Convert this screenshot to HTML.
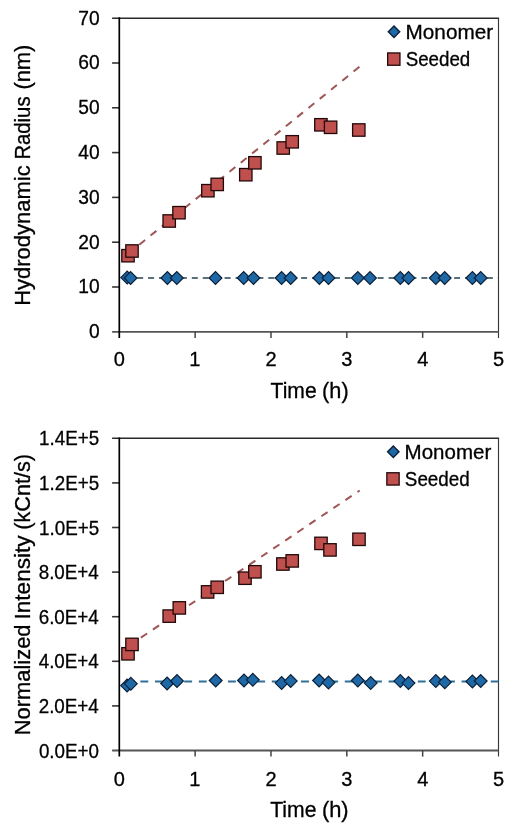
<!DOCTYPE html>
<html><head><meta charset="utf-8">
<style>
html,body{margin:0;padding:0;background:#fff;}
body{width:527px;height:829px;overflow:hidden;}
svg{display:block;will-change:transform;}
text{font-family:"Liberation Sans", sans-serif;fill:#000;stroke:#000;stroke-width:0.3px;}
</style></head>
<body>
<svg width="527" height="829" viewBox="0 0 527 829">
<rect width="527" height="829" fill="#fff"/>
<line x1="112.1" y1="18.20" x2="499.1" y2="18.20" stroke="#2a2a2a" stroke-width="1.5"/>
<line x1="498.50" y1="18.20" x2="498.50" y2="337.90" stroke="#383838" stroke-width="1.15"/>
<line x1="112.1" y1="331.80" x2="498.50" y2="331.80" stroke="#555" stroke-width="1.8"/>
<line x1="112.1" y1="63.00" x2="119.30" y2="63.00" stroke="#333" stroke-width="1.6"/>
<line x1="112.1" y1="107.80" x2="119.30" y2="107.80" stroke="#333" stroke-width="1.6"/>
<line x1="112.1" y1="152.60" x2="119.30" y2="152.60" stroke="#333" stroke-width="1.6"/>
<line x1="112.1" y1="197.40" x2="119.30" y2="197.40" stroke="#333" stroke-width="1.6"/>
<line x1="112.1" y1="242.20" x2="119.30" y2="242.20" stroke="#333" stroke-width="1.6"/>
<line x1="112.1" y1="287.00" x2="119.30" y2="287.00" stroke="#333" stroke-width="1.6"/>
<line x1="195.14" y1="331.80" x2="195.14" y2="337.90" stroke="#444" stroke-width="1.5"/>
<line x1="270.98" y1="331.80" x2="270.98" y2="337.90" stroke="#444" stroke-width="1.5"/>
<line x1="346.82" y1="331.80" x2="346.82" y2="337.90" stroke="#444" stroke-width="1.5"/>
<line x1="422.66" y1="331.80" x2="422.66" y2="337.90" stroke="#444" stroke-width="1.5"/>
<line x1="128" y1="253.8" x2="359.7" y2="66.6" stroke="#9e5656" stroke-width="2.0" stroke-dasharray="7.5 7" stroke-dashoffset="0"/>
<line x1="127.2" y1="278.0" x2="498.5" y2="278.0" stroke="#24434f" stroke-width="1.6" stroke-dasharray="6.0 4.93" stroke-dashoffset="0.98"/>
<rect x="121.80" y="249.50" width="12.4" height="12.4" fill="#c0504d" stroke="#220808" stroke-width="1.3"/>
<rect x="125.80" y="244.80" width="12.4" height="12.4" fill="#c0504d" stroke="#220808" stroke-width="1.3"/>
<rect x="163.00" y="214.80" width="12.4" height="12.4" fill="#c0504d" stroke="#220808" stroke-width="1.3"/>
<rect x="172.80" y="206.50" width="12.4" height="12.4" fill="#c0504d" stroke="#220808" stroke-width="1.3"/>
<rect x="201.70" y="184.50" width="12.4" height="12.4" fill="#c0504d" stroke="#220808" stroke-width="1.3"/>
<rect x="211.00" y="178.20" width="12.4" height="12.4" fill="#c0504d" stroke="#220808" stroke-width="1.3"/>
<rect x="239.60" y="168.50" width="12.4" height="12.4" fill="#c0504d" stroke="#220808" stroke-width="1.3"/>
<rect x="248.70" y="156.60" width="12.4" height="12.4" fill="#c0504d" stroke="#220808" stroke-width="1.3"/>
<rect x="277.00" y="141.80" width="12.4" height="12.4" fill="#c0504d" stroke="#220808" stroke-width="1.3"/>
<rect x="286.00" y="135.60" width="12.4" height="12.4" fill="#c0504d" stroke="#220808" stroke-width="1.3"/>
<rect x="314.70" y="118.60" width="12.4" height="12.4" fill="#c0504d" stroke="#220808" stroke-width="1.3"/>
<rect x="324.40" y="121.10" width="12.4" height="12.4" fill="#c0504d" stroke="#220808" stroke-width="1.3"/>
<rect x="352.60" y="123.80" width="12.4" height="12.4" fill="#c0504d" stroke="#220808" stroke-width="1.3"/>
<path d="M120.80 277.60 L127.20 271.20 L133.60 277.60 L127.20 284.00 Z" fill="#1f68a6" stroke="#0b2038" stroke-width="1.2"/>
<path d="M124.20 278.00 L130.60 271.60 L137.00 278.00 L130.60 284.40 Z" fill="#1f68a6" stroke="#0b2038" stroke-width="1.2"/>
<path d="M161.00 278.00 L167.40 271.60 L173.80 278.00 L167.40 284.40 Z" fill="#1f68a6" stroke="#0b2038" stroke-width="1.2"/>
<path d="M170.40 278.00 L176.80 271.60 L183.20 278.00 L176.80 284.40 Z" fill="#1f68a6" stroke="#0b2038" stroke-width="1.2"/>
<path d="M209.10 278.00 L215.50 271.60 L221.90 278.00 L215.50 284.40 Z" fill="#1f68a6" stroke="#0b2038" stroke-width="1.2"/>
<path d="M237.30 278.00 L243.70 271.60 L250.10 278.00 L243.70 284.40 Z" fill="#1f68a6" stroke="#0b2038" stroke-width="1.2"/>
<path d="M247.10 278.00 L253.50 271.60 L259.90 278.00 L253.50 284.40 Z" fill="#1f68a6" stroke="#0b2038" stroke-width="1.2"/>
<path d="M275.20 278.00 L281.60 271.60 L288.00 278.00 L281.60 284.40 Z" fill="#1f68a6" stroke="#0b2038" stroke-width="1.2"/>
<path d="M284.30 278.00 L290.70 271.60 L297.10 278.00 L290.70 284.40 Z" fill="#1f68a6" stroke="#0b2038" stroke-width="1.2"/>
<path d="M313.00 278.00 L319.40 271.60 L325.80 278.00 L319.40 284.40 Z" fill="#1f68a6" stroke="#0b2038" stroke-width="1.2"/>
<path d="M322.10 278.00 L328.50 271.60 L334.90 278.00 L328.50 284.40 Z" fill="#1f68a6" stroke="#0b2038" stroke-width="1.2"/>
<path d="M351.40 278.00 L357.80 271.60 L364.20 278.00 L357.80 284.40 Z" fill="#1f68a6" stroke="#0b2038" stroke-width="1.2"/>
<path d="M363.60 278.00 L370.00 271.60 L376.40 278.00 L370.00 284.40 Z" fill="#1f68a6" stroke="#0b2038" stroke-width="1.2"/>
<path d="M393.90 278.00 L400.30 271.60 L406.70 278.00 L400.30 284.40 Z" fill="#1f68a6" stroke="#0b2038" stroke-width="1.2"/>
<path d="M402.10 278.00 L408.50 271.60 L414.90 278.00 L408.50 284.40 Z" fill="#1f68a6" stroke="#0b2038" stroke-width="1.2"/>
<path d="M429.40 278.00 L435.80 271.60 L442.20 278.00 L435.80 284.40 Z" fill="#1f68a6" stroke="#0b2038" stroke-width="1.2"/>
<path d="M438.30 278.00 L444.70 271.60 L451.10 278.00 L444.70 284.40 Z" fill="#1f68a6" stroke="#0b2038" stroke-width="1.2"/>
<path d="M466.00 278.00 L472.40 271.60 L478.80 278.00 L472.40 284.40 Z" fill="#1f68a6" stroke="#0b2038" stroke-width="1.2"/>
<path d="M474.30 278.00 L480.70 271.60 L487.10 278.00 L480.70 284.40 Z" fill="#1f68a6" stroke="#0b2038" stroke-width="1.2"/>
<line x1="119.30" y1="17.30" x2="119.30" y2="337.90" stroke="#000" stroke-width="1.7"/>
<text transform="translate(78.36,24.50) scale(0.9600,1)" font-size="20">70</text>
<text transform="translate(78.36,69.30) scale(0.9600,1)" font-size="20">60</text>
<text transform="translate(78.36,114.10) scale(0.9600,1)" font-size="20">50</text>
<text transform="translate(78.36,158.90) scale(0.9600,1)" font-size="20">40</text>
<text transform="translate(78.36,203.70) scale(0.9600,1)" font-size="20">30</text>
<text transform="translate(78.36,248.50) scale(0.9600,1)" font-size="20">20</text>
<text transform="translate(78.36,293.30) scale(0.9600,1)" font-size="20">10</text>
<text transform="translate(88.92,338.10) scale(0.9600,1)" font-size="20">0</text>
<text transform="translate(113.70,366.00) scale(1.0000,1)" font-size="20">0</text>
<text transform="translate(189.24,366.00) scale(1.0000,1)" font-size="20">1</text>
<text transform="translate(265.38,366.00) scale(1.0000,1)" font-size="20">2</text>
<text transform="translate(341.32,366.00) scale(1.0000,1)" font-size="20">3</text>
<text transform="translate(417.16,366.00) scale(1.0000,1)" font-size="20">4</text>
<text transform="translate(493.00,366.00) scale(1.0000,1)" font-size="20">5</text>
<text transform="translate(270.58,397.60) scale(0.9899,1)" font-size="21.3">Time</text>
<text transform="translate(322.10,397.60) scale(1.0201,1)" font-size="21.3">(h)</text>
<text transform="translate(30.00,89.62) rotate(-90) scale(1.0290,1)" font-size="21.3">(nm)</text>
<text transform="translate(30.00,159.62) rotate(-90) scale(0.9531,1)" font-size="21.3">Radius</text>
<text transform="translate(30.00,305.76) rotate(-90) scale(1.0324,1)" font-size="21.3">Hydrodynamic</text>
<path d="M388.30 31.80 L394.00 26.10 L399.70 31.80 L394.00 37.50 Z" fill="#1f68a6" stroke="#0b2038" stroke-width="1.4"/>
<text transform="translate(405.54,38.50) scale(1.0533,1)" font-size="19.7">Monomer</text>
<rect x="387.65" y="52.95" width="12.3" height="12.3" fill="#c0504d" stroke="#220808" stroke-width="1.3"/>
<text transform="translate(405.66,65.70) scale(0.9527,1)" font-size="19.7">Seeded</text>
<line x1="112.1" y1="438.30" x2="499.1" y2="438.30" stroke="#2a2a2a" stroke-width="1.5"/>
<line x1="498.50" y1="438.30" x2="498.50" y2="756.60" stroke="#383838" stroke-width="1.15"/>
<line x1="112.1" y1="750.50" x2="498.50" y2="750.50" stroke="#555" stroke-width="1.8"/>
<line x1="112.1" y1="482.90" x2="119.30" y2="482.90" stroke="#333" stroke-width="1.6"/>
<line x1="112.1" y1="527.50" x2="119.30" y2="527.50" stroke="#333" stroke-width="1.6"/>
<line x1="112.1" y1="572.10" x2="119.30" y2="572.10" stroke="#333" stroke-width="1.6"/>
<line x1="112.1" y1="616.70" x2="119.30" y2="616.70" stroke="#333" stroke-width="1.6"/>
<line x1="112.1" y1="661.30" x2="119.30" y2="661.30" stroke="#333" stroke-width="1.6"/>
<line x1="112.1" y1="705.90" x2="119.30" y2="705.90" stroke="#333" stroke-width="1.6"/>
<line x1="195.14" y1="750.50" x2="195.14" y2="756.60" stroke="#444" stroke-width="1.5"/>
<line x1="270.98" y1="750.50" x2="270.98" y2="756.60" stroke="#444" stroke-width="1.5"/>
<line x1="346.82" y1="750.50" x2="346.82" y2="756.60" stroke="#444" stroke-width="1.5"/>
<line x1="422.66" y1="750.50" x2="422.66" y2="756.60" stroke="#444" stroke-width="1.5"/>
<line x1="128" y1="646.3" x2="359.7" y2="490.5" stroke="#9e5656" stroke-width="2.0" stroke-dasharray="7.5 7" stroke-dashoffset="-1"/>
<line x1="127.1" y1="681.5" x2="498.5" y2="681.5" stroke="#2f6f98" stroke-width="2.0" stroke-dasharray="7.9 6.70" stroke-dashoffset="1.30"/>
<rect x="121.80" y="647.60" width="12.4" height="12.4" fill="#c0504d" stroke="#220808" stroke-width="1.3"/>
<rect x="125.80" y="638.20" width="12.4" height="12.4" fill="#c0504d" stroke="#220808" stroke-width="1.3"/>
<rect x="163.00" y="609.90" width="12.4" height="12.4" fill="#c0504d" stroke="#220808" stroke-width="1.3"/>
<rect x="173.10" y="601.70" width="12.4" height="12.4" fill="#c0504d" stroke="#220808" stroke-width="1.3"/>
<rect x="201.40" y="585.70" width="12.4" height="12.4" fill="#c0504d" stroke="#220808" stroke-width="1.3"/>
<rect x="211.00" y="581.10" width="12.4" height="12.4" fill="#c0504d" stroke="#220808" stroke-width="1.3"/>
<rect x="238.80" y="572.00" width="12.4" height="12.4" fill="#c0504d" stroke="#220808" stroke-width="1.3"/>
<rect x="248.70" y="565.60" width="12.4" height="12.4" fill="#c0504d" stroke="#220808" stroke-width="1.3"/>
<rect x="276.70" y="557.80" width="12.4" height="12.4" fill="#c0504d" stroke="#220808" stroke-width="1.3"/>
<rect x="286.00" y="554.70" width="12.4" height="12.4" fill="#c0504d" stroke="#220808" stroke-width="1.3"/>
<rect x="314.80" y="537.20" width="12.4" height="12.4" fill="#c0504d" stroke="#220808" stroke-width="1.3"/>
<rect x="323.80" y="543.70" width="12.4" height="12.4" fill="#c0504d" stroke="#220808" stroke-width="1.3"/>
<rect x="352.80" y="533.10" width="12.4" height="12.4" fill="#c0504d" stroke="#220808" stroke-width="1.3"/>
<path d="M120.70 685.60 L127.10 679.20 L133.50 685.60 L127.10 692.00 Z" fill="#1f68a6" stroke="#0b2038" stroke-width="1.2"/>
<path d="M124.40 683.80 L130.80 677.40 L137.20 683.80 L130.80 690.20 Z" fill="#1f68a6" stroke="#0b2038" stroke-width="1.2"/>
<path d="M160.70 683.50 L167.10 677.10 L173.50 683.50 L167.10 689.90 Z" fill="#1f68a6" stroke="#0b2038" stroke-width="1.2"/>
<path d="M170.60 681.00 L177.00 674.60 L183.40 681.00 L177.00 687.40 Z" fill="#1f68a6" stroke="#0b2038" stroke-width="1.2"/>
<path d="M209.30 680.50 L215.70 674.10 L222.10 680.50 L215.70 686.90 Z" fill="#1f68a6" stroke="#0b2038" stroke-width="1.2"/>
<path d="M237.60 680.50 L244.00 674.10 L250.40 680.50 L244.00 686.90 Z" fill="#1f68a6" stroke="#0b2038" stroke-width="1.2"/>
<path d="M246.40 679.80 L252.80 673.40 L259.20 679.80 L252.80 686.20 Z" fill="#1f68a6" stroke="#0b2038" stroke-width="1.2"/>
<path d="M275.20 683.10 L281.60 676.70 L288.00 683.10 L281.60 689.50 Z" fill="#1f68a6" stroke="#0b2038" stroke-width="1.2"/>
<path d="M284.30 681.10 L290.70 674.70 L297.10 681.10 L290.70 687.50 Z" fill="#1f68a6" stroke="#0b2038" stroke-width="1.2"/>
<path d="M312.70 680.50 L319.10 674.10 L325.50 680.50 L319.10 686.90 Z" fill="#1f68a6" stroke="#0b2038" stroke-width="1.2"/>
<path d="M322.10 682.60 L328.50 676.20 L334.90 682.60 L328.50 689.00 Z" fill="#1f68a6" stroke="#0b2038" stroke-width="1.2"/>
<path d="M351.40 680.50 L357.80 674.10 L364.20 680.50 L357.80 686.90 Z" fill="#1f68a6" stroke="#0b2038" stroke-width="1.2"/>
<path d="M364.30 683.10 L370.70 676.70 L377.10 683.10 L370.70 689.50 Z" fill="#1f68a6" stroke="#0b2038" stroke-width="1.2"/>
<path d="M393.90 681.10 L400.30 674.70 L406.70 681.10 L400.30 687.50 Z" fill="#1f68a6" stroke="#0b2038" stroke-width="1.2"/>
<path d="M402.10 683.10 L408.50 676.70 L414.90 683.10 L408.50 689.50 Z" fill="#1f68a6" stroke="#0b2038" stroke-width="1.2"/>
<path d="M429.40 681.10 L435.80 674.70 L442.20 681.10 L435.80 687.50 Z" fill="#1f68a6" stroke="#0b2038" stroke-width="1.2"/>
<path d="M438.40 682.30 L444.80 675.90 L451.20 682.30 L444.80 688.70 Z" fill="#1f68a6" stroke="#0b2038" stroke-width="1.2"/>
<path d="M466.00 681.40 L472.40 675.00 L478.80 681.40 L472.40 687.80 Z" fill="#1f68a6" stroke="#0b2038" stroke-width="1.2"/>
<path d="M474.30 681.00 L480.70 674.60 L487.10 681.00 L480.70 687.40 Z" fill="#1f68a6" stroke="#0b2038" stroke-width="1.2"/>
<line x1="119.30" y1="437.40" x2="119.30" y2="756.60" stroke="#000" stroke-width="1.7"/>
<text transform="translate(39.08,445.30) scale(0.9400,1)" font-size="20">1.4E+5</text>
<text transform="translate(39.08,489.90) scale(0.9400,1)" font-size="20">1.2E+5</text>
<text transform="translate(39.08,534.50) scale(0.9400,1)" font-size="20">1.0E+5</text>
<text transform="translate(38.70,579.10) scale(0.9400,1)" font-size="20">8.0E+4</text>
<text transform="translate(38.70,623.70) scale(0.9400,1)" font-size="20">6.0E+4</text>
<text transform="translate(38.70,668.30) scale(0.9400,1)" font-size="20">4.0E+4</text>
<text transform="translate(38.70,712.90) scale(0.9400,1)" font-size="20">2.0E+4</text>
<text transform="translate(38.89,757.50) scale(0.9400,1)" font-size="20">0.0E+0</text>
<text transform="translate(113.70,785.60) scale(1.0000,1)" font-size="20">0</text>
<text transform="translate(189.24,785.60) scale(1.0000,1)" font-size="20">1</text>
<text transform="translate(265.38,785.60) scale(1.0000,1)" font-size="20">2</text>
<text transform="translate(341.32,785.60) scale(1.0000,1)" font-size="20">3</text>
<text transform="translate(417.16,785.60) scale(1.0000,1)" font-size="20">4</text>
<text transform="translate(493.00,785.60) scale(1.0000,1)" font-size="20">5</text>
<text transform="translate(270.18,817.40) scale(0.9943,1)" font-size="21.3">Time</text>
<text transform="translate(321.89,817.40) scale(1.0286,1)" font-size="21.3">(h)</text>
<text transform="translate(30.00,529.80) rotate(-90) scale(1.0181,1)" font-size="21.3">(kCnt/s)</text>
<text transform="translate(30.00,619.54) rotate(-90) scale(1.0618,1)" font-size="21.3">Intensity</text>
<text transform="translate(30.00,735.35) rotate(-90) scale(1.0298,1)" font-size="21.3">Normalized</text>
<path d="M387.60 451.80 L393.30 446.10 L399.00 451.80 L393.30 457.50 Z" fill="#1f68a6" stroke="#0b2038" stroke-width="1.4"/>
<text transform="translate(404.56,458.60) scale(1.0423,1)" font-size="19.7">Monomer</text>
<rect x="386.85" y="472.75" width="12.3" height="12.3" fill="#c0504d" stroke="#220808" stroke-width="1.3"/>
<text transform="translate(404.86,485.50) scale(0.9558,1)" font-size="19.7">Seeded</text>
</svg>
</body></html>
